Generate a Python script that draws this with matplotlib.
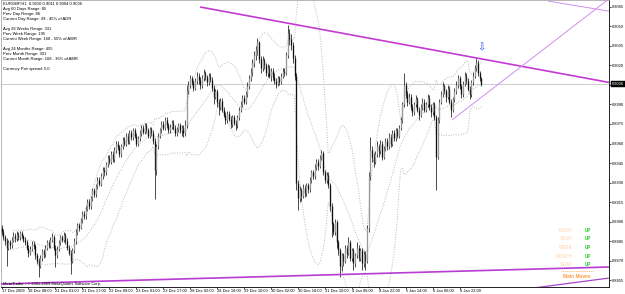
import numpy as np
import pandas as pd
import matplotlib
matplotlib.use("Agg")
import matplotlib.pyplot as plt
import matplotlib.transforms as mtrans

plt.rcParams['font.family'] = ['Liberation Sans', 'DejaVu Sans']

# ---------------- data (prices in pips above 0.8800) ----------------
first_open = 95
bar_close = [
    92, 88, 85, 80, 84, 82, 86, 89, 87, 90, 88,
    91, 89, 86, 84, 80, 76, 79, 83, 81, 74,
    70, 66, 72, 77, 75, 80, 84, 82, 86, 88,
    80, 74, 79, 84, 88, 86, 90, 85, 80, 76,
    70, 78, 85, 92, 97, 95, 101, 106, 104, 110,
    115, 112, 118, 124, 121, 127, 132, 129, 135, 140,
    138, 144, 149, 146, 152, 148, 155, 160, 157, 152,
    158, 163, 160, 166, 162, 168, 165, 170, 166, 160,
    164, 168, 172, 169, 174, 170, 166, 171, 168, 162,
    140, 158, 166, 170, 175, 172, 178, 174, 170, 173,
    176, 172, 168, 171, 174, 170, 172, 168, 174, 200,
    205, 210, 207, 203, 208, 212, 209, 205, 210, 214,
    211, 207, 212, 209, 203, 196, 200, 192, 188, 193,
    186, 182, 178, 183, 179, 175, 180, 176, 174, 180,
    186, 190, 195, 192, 198, 204, 210, 215, 222, 228,
    232, 238, 225, 218, 224, 220, 214, 218, 212, 216,
    211, 208, 206, 210, 207, 212, 216, 214, 228, 245,
    240, 236, 226, 212, 130, 118, 124, 120, 126, 122,
    128, 125, 132, 138, 135, 142, 146, 143, 149, 153,
    138, 132, 136, 128, 112, 98, 92, 100, 84, 78,
    66, 74, 70, 80, 76, 84, 72, 78, 68, 74,
    80, 72, 78, 68, 75, 70, 95, 135, 155, 150,
    146, 152, 158, 154, 160, 150, 156, 162, 158, 165,
    160, 168, 164, 170, 166, 172, 178, 190, 205, 198,
    192, 196, 188, 184, 190, 194, 186, 182, 188, 192,
    186, 190, 195, 188, 184, 190, 180, 150, 178, 192,
    198, 204, 200, 196, 202, 192, 186, 194, 200, 205,
    210, 204, 198, 206, 212, 208, 202, 198, 207, 212,
    218, 222, 214, 210, 206,
]
bar_high = [
    97, 94, 90, 87, 86, 86, 88, 92, 91, 93, 92,
    93, 93, 90, 88, 86, 82, 81, 85, 85, 83,
    76, 72, 74, 79, 79, 82, 86, 86, 88, 91,
    90, 82, 81, 86, 90, 90, 92, 91, 87, 82,
    78, 80, 87, 94, 99, 99, 103, 108, 108, 112,
    117, 117, 120, 126, 126, 129, 134, 134, 137, 142,
    142, 146, 151, 151, 154, 154, 157, 162, 162, 159,
    160, 165, 165, 168, 168, 170, 170, 172, 172, 168,
    166, 170, 174, 174, 176, 176, 172, 173, 173, 170,
    164, 160, 168, 172, 177, 177, 180, 180, 176, 175,
    178, 178, 174, 173, 176, 176, 174, 174, 178, 205,
    208, 213, 212, 209, 210, 215, 214, 211, 213, 217,
    216, 213, 214, 214, 211, 205, 202, 202, 194, 195,
    195, 188, 184, 185, 185, 181, 182, 182, 178, 182,
    188, 193, 197, 197, 200, 207, 213, 218, 225, 231,
    235, 241, 239, 227, 227, 226, 222, 221, 220, 218,
    218, 214, 210, 212, 212, 214, 218, 218, 230, 251,
    248, 244, 238, 228, 214, 132, 127, 126, 129, 128,
    130, 130, 134, 140, 140, 144, 148, 148, 151, 155,
    154, 140, 138, 138, 130, 114, 100, 102, 101, 86,
    80, 76, 76, 82, 82, 88, 86, 80, 80, 76,
    84, 82, 80, 80, 77, 77, 97, 138, 165, 158,
    153, 154, 162, 160, 163, 162, 158, 164, 164, 168,
    167, 170, 170, 172, 172, 174, 180, 192, 214, 207,
    200, 199, 198, 190, 192, 197, 196, 188, 190, 195,
    194, 192, 198, 197, 190, 192, 192, 182, 180, 194,
    200, 207, 206, 202, 205, 204, 194, 196, 203, 208,
    213, 212, 206, 208, 215, 214, 210, 204, 209, 215,
    220, 226, 224, 216, 211,
]
bar_low = [
    90, 86, 82, 66, 78, 79, 80, 84, 84, 85, 86,
    86, 87, 84, 82, 78, 73, 74, 77, 79, 71,
    67, 57, 64, 70, 72, 73, 78, 80, 80, 84,
    78, 65, 72, 77, 82, 84, 84, 83, 78, 74,
    60, 68, 76, 83, 90, 93, 94, 99, 102, 102,
    108, 110, 110, 116, 119, 119, 125, 127, 127, 133,
    135, 136, 142, 144, 144, 146, 146, 153, 155, 150,
    150, 156, 158, 158, 160, 160, 163, 163, 164, 158,
    158, 162, 166, 167, 167, 168, 164, 164, 166, 160,
    117, 136, 156, 164, 168, 170, 170, 172, 168, 168,
    171, 170, 166, 166, 169, 168, 166, 165, 166, 172,
    198, 203, 205, 200, 201, 206, 206, 202, 203, 208,
    209, 204, 205, 207, 200, 190, 194, 188, 182, 186,
    184, 180, 175, 176, 177, 172, 173, 174, 170, 172,
    178, 184, 188, 190, 190, 196, 202, 208, 212, 219,
    224, 228, 222, 214, 216, 217, 212, 211, 210, 208,
    209, 206, 203, 204, 205, 206, 210, 212, 213, 226,
    236, 232, 222, 209, 124, 109, 115, 116, 118, 119,
    120, 122, 123, 130, 133, 133, 140, 140, 141, 147,
    136, 130, 130, 126, 108, 88, 90, 90, 80, 74,
    57, 62, 66, 68, 72, 74, 70, 70, 63, 65,
    72, 70, 70, 63, 65, 63, 68, 92, 132, 146,
    142, 144, 150, 150, 152, 147, 148, 154, 155, 156,
    157, 158, 162, 162, 164, 164, 170, 176, 188, 195,
    189, 190, 186, 181, 182, 188, 184, 178, 180, 186,
    184, 184, 188, 186, 180, 182, 178, 124, 148, 176,
    190, 196, 198, 192, 194, 190, 180, 184, 192, 198,
    203, 202, 195, 196, 204, 206, 200, 194, 196, 205,
    210, 216, 212, 208, 204,
]

x_tick_bars = [0, 16, 32, 48, 64, 80, 96, 112, 128, 144, 160, 176, 192, 208, 224, 240, 256, 272]
x_tick_labels = ["17 Dec 2009", "18 Dec 08:00", "21 Dec 01:00", "21 Dec 17:00", "22 Dec 09:00",
                 "23 Dec 01:00", "23 Dec 17:00", "28 Dec 02:00", "28 Dec 18:00", "29 Dec 10:00",
                 "30 Dec 02:00", "30 Dec 18:00", "31 Dec 10:00", "4 Jan 06:00", "4 Jan 22:00",
                 "5 Jan 14:00", "6 Jan 06:00", "6 Jan 22:00"]
y_tick_values = [0.8855, 0.8870, 0.8885, 0.8900, 0.8915, 0.8930, 0.8945, 0.8960,
                 0.8975, 0.8990, 0.9005, 0.9020, 0.9035, 0.9050, 0.9065]
current_price = 0.9006

# trend lines: (bar index, price) pairs
tl_upper = [(117.9, 0.90650), (360.7, 0.90070)]
tl_rising = [(267.5, 0.89781), (360.7, 0.90712)]
tl_top = [(324.5, 0.90696), (360.7, 0.90618)]
tl_bottom = [(-0.9, 0.88519), (360.7, 0.88650)]
tl_bottom2 = [(313.8, 0.88485), (360.7, 0.88565)]
arrow_pos = (284.7, 0.90342)

info_lines = [
    "EURGBP,H1  0.9010 0.9011 0.9004 0.9006",
    "Avg 60 Days Range: 85",
    "Prev Day Range: 86",
    "Current Day Range: 39 - 45% of ADR",
    "",
    "Avg 26 Weeks Range: 331",
    "Prev Week Range: 195",
    "Current Week Range: 168 - 50% of AWR",
    "",
    "Avg 24 Months Range: 455",
    "Prev Month Range: 301",
    "Current Month Range: 168 - 36% of AMR",
    "",
    "Currency Pair spread: 5.0",
]
legend_labels = ["TODAY", "Y-DAY", "WEEK", "MONTH", "YEAR"]
legend_states = ["UP", "UP", "UP", "UP", "UP"]

# ---------------- figure ----------------
W, H = 625, 294
fig = plt.figure(figsize=(W / 100, H / 100), dpi=100)
fig.patch.set_facecolor("white")


def fx(x):
    return x / W


def fy(y):
    return 1 - y / H


ax = fig.add_axes([fx(1), fy(287), (609 - 1) / W, 287 / H])
ax.set_facecolor("white")

close = 0.88 + np.array(bar_close) / 10000.0
high = 0.88 + np.array(bar_high) / 10000.0
low = 0.88 + np.array(bar_low) / 10000.0
opn = np.concatenate([[0.88 + first_open / 10000.0], close[:-1]])
idx = np.arange(len(close))

# Bollinger bands
s = pd.Series(close)
ma = s.rolling(20, min_periods=8).mean()
sd = s.rolling(20, min_periods=8).std(ddof=0)
bb_style = dict(color="#b8b8b8", lw=0.7, ls=(0, (1, 1.6)), zorder=1)
ax.plot(idx, ma, **bb_style)
ax.plot(idx, ma + 2 * sd, **bb_style)
ax.plot(idx, ma - 2 * sd, **bb_style)

# bid line
ax.axhline(current_price, color="#c4c4c4", lw=0.6, zorder=1)

# candles
ax.vlines(idx, low, high, colors="#1a1a1a", lw=0.55, zorder=3)
bull = close > opn
body_lo = np.minimum(opn, close)
body_hi = np.maximum(opn, close)
ax.vlines(idx[~bull], body_lo[~bull], body_hi[~bull], colors="#111111", lw=0.95, zorder=4)
ax.vlines(idx[bull], body_lo[bull], body_hi[bull], colors="#9a9a9a", lw=0.95, zorder=4)

# trend lines
def tl(pts, **kw):
    ax.plot([p[0] for p in pts], [p[1] for p in pts], solid_capstyle="butt", **kw)


tl(tl_upper, color="#c43ad2", lw=1.2, zorder=5)
tl(tl_rising, color="#d08ef0", lw=0.7, zorder=5)
tl(tl_top, color="#d08ef0", lw=0.7, zorder=5)
tl(tl_bottom, color="#b83cd0", lw=1.2, zorder=5)
tl(tl_bottom2, color="#a844c8", lw=0.9, zorder=5)

ax.text(arrow_pos[0], arrow_pos[1], "\u21e9", family="DejaVu Sans", fontsize=7,
        color="#2a4cf0", ha="center", va="center", zorder=6)

ax.set_xlim(-0.3, 360.75)
ax.set_ylim(0.884962, 0.907038)

# axes / ticks
ax.yaxis.tick_right()
ax.set_yticks(y_tick_values)
ax.set_yticklabels(["" if abs(v - 0.9005) < 1e-9 else f"{v:.4f}" for v in y_tick_values])
ax.set_xticks(x_tick_bars)
ax.set_xticklabels(x_tick_labels, ha="left")
ax.tick_params(axis="y", direction="out", length=1.6, width=0.5, pad=0.6, labelsize=2.9, colors="black")
ax.tick_params(axis="x", direction="out", length=1.4, width=0.5, pad=0.2, labelsize=2.9, colors="black")
for sp in ["right", "bottom"]:
    ax.spines[sp].set_color("#202020")
    ax.spines[sp].set_linewidth(0.7)
for sp in ["left", "top"]:
    ax.spines[sp].set_color("#9a9a9a")
    ax.spines[sp].set_linewidth(0.5)

# current price box
ax.annotate(f"{current_price:.4f}", xy=(1.0, current_price), xycoords=("axes fraction", "data"),
            xytext=(2.4, 0), textcoords="offset points", ha="left", va="center",
            fontsize=2.9, color="white", annotation_clip=False, zorder=10,
            bbox=dict(boxstyle="square,pad=0.25", fc="black", ec="black", lw=0.3))

# info text
for k, line in enumerate(info_lines):
    if line:
        fig.text(fx(3), fy(4 + 5.0 * k), line, fontsize=3.0, color="black",
                 ha="left", va="center")

# copyright
fig.text(fx(3), fy(283.5), "MetaTrader - \u00a9 2001-2009 MetaQuotes Software Corp.",
         fontsize=2.9, color="black", ha="left", va="center")

# legend block
rows_y = [230, 239, 247.5, 256, 264.5]
for lab, st, yy in zip(legend_labels, legend_states, rows_y):
    fig.text(fx(573), fy(yy), lab, fontsize=3.3, color="#ffcfa6", ha="right", va="center")
    fig.text(fx(585), fy(yy), st, fontsize=3.3, color="#2ed12e", ha="left", va="center",
             fontweight="bold")
fig.add_artist(plt.Line2D([fx(561), fx(594)], [fy(271), fy(271)], color="#ffa050",
                          lw=0.6, ls=(0, (1, 1.2))))
fig.text(fx(577), fy(276.5), "Main Moves", fontsize=3.4, color="#ff9a3c", ha="center",
         va="center", fontweight="bold")

fig.savefig("out.png", dpi=100, facecolor="white")
